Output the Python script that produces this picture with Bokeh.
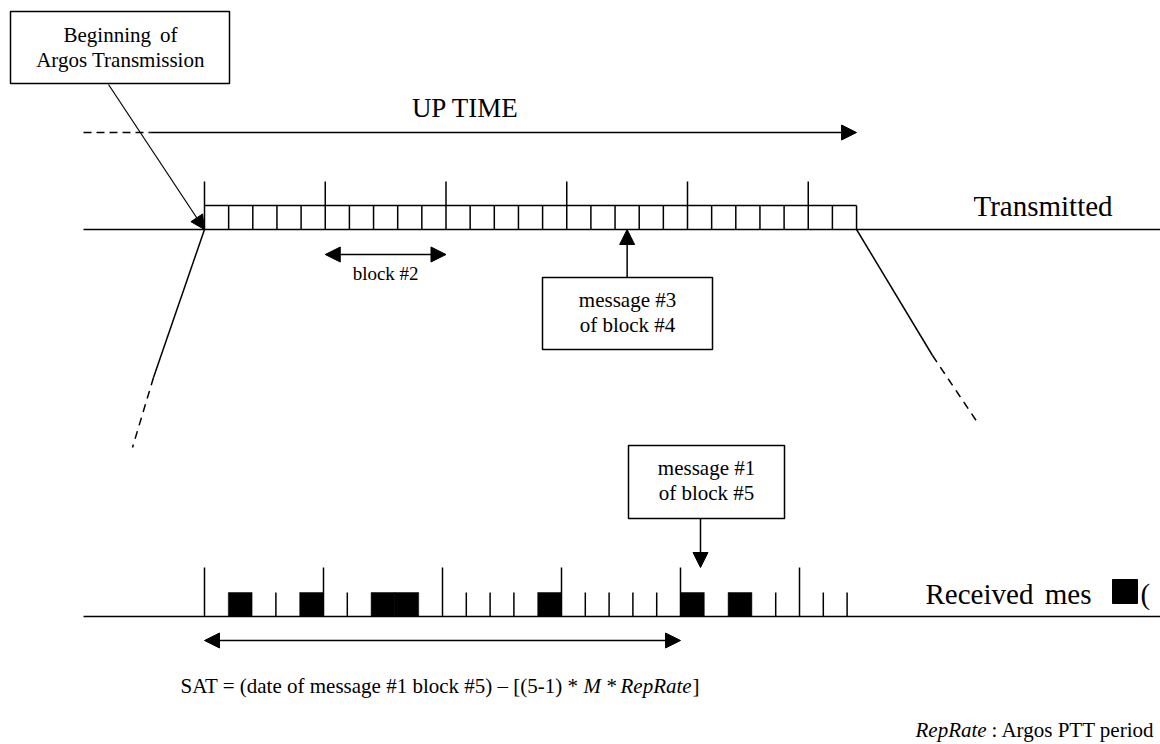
from bokeh.plotting import figure
from bokeh.models import Range1d, Arrow, NormalHead
from bokeh.core.properties import value
from bokeh.embed import file_html
from bokeh.resources import INLINE

# ---------------- data ----------------
n_messages = 27                 # messages transmitted during UP TIME
messages_per_block = 5          # M
block_starts = [0, 5, 10, 15, 20, 25]          # message index where each block starts
received_messages = [1, 4, 7, 8, 14, 20, 22]   # message indices received by the satellite
tx_highlight = (4, 3)           # (block, message) pointed at in the transmitted row
rx_highlight = (5, 1)           # (block, message) pointed at in the received row
box_begin = ["Beginning", "of", "Argos Transmission"]
box_tx = ["message #3", "of block #4"]
box_rx = ["message #1", "of block #5"]

# ---------------- layout (page pixels) ----------------
W, H = 1160, 744
FONT = value("Liberation Serif")
TX_X0, TX_CELL, TX_BASE, TX_TOP, TX_TICK = 204, 24.15, 229, 205, 181
RX_X0, RX_CELL, RX_BASE, RX_TOP, RX_TICK = 204, 23.8, 616, 592, 567
LEFT, RIGHT = 83, 1160
LW = 1.5
BASE_FIX = 0.38   # renderer places alphabetic baseline lower by this fraction of the font size


def tx(k):
    return TX_X0 + k * TX_CELL


def rx(k):
    return RX_X0 + k * RX_CELL


p = figure(width=W, height=H, x_range=Range1d(0, W), y_range=Range1d(H, 0),
           output_backend="svg", toolbar_location=None, min_border=0,
           x_axis_location=None, y_axis_location=None)
p.grid.visible = False
p.outline_line_color = None
p.background_fill_color = "white"
p.border_fill_color = "white"


def seg(x0, y0, x1, y1, lw=LW, dash="solid"):
    p.segment(x0=[x0], y0=[y0], x1=[x1], y1=[y1], line_color="black", line_width=lw, line_dash=dash)


def arrow(x0, y0, x1, y1, both=False, lw=LW, size=15):
    head = lambda: NormalHead(size=size, fill_color="black", line_color="black", line_width=1)
    p.add_layout(Arrow(end=head(), start=head() if both else None,
                       x_start=x0, y_start=y0, x_end=x1, y_end=y1,
                       line_color="black", line_width=lw))


def txt(x, y, s, size=21, align="left", style="normal"):
    p.text(x=[x], y=[y - BASE_FIX * size], text=[s], text_font=FONT, text_font_size=f"{size}px",
           text_align=align, text_baseline="alphabetic", text_color="black", text_font_style=style)


# ---------------- transmitted row ----------------
seg(LEFT, TX_BASE, RIGHT, TX_BASE)
seg(tx(0), TX_TOP, tx(n_messages), TX_TOP)
ks = list(range(n_messages + 1))
p.segment(x0=[tx(k) for k in ks], y0=[TX_TOP] * len(ks), x1=[tx(k) for k in ks], y1=[TX_BASE] * len(ks),
          line_color="black", line_width=LW)
p.segment(x0=[tx(k) for k in block_starts], y0=[TX_TICK] * len(block_starts),
          x1=[tx(k) for k in block_starts], y1=[TX_TOP] * len(block_starts),
          line_color="black", line_width=LW)
txt(973, 217, "Transmitted", size=29)

# UP TIME
seg(LEFT, 132, 150, 132, dash="8 5")
arrow(150, 132, tx(n_messages), 132)
txt(465, 118, "UP TIME", size=27, align="center")

# block #2
arrow(tx(block_starts[1]), 254, tx(block_starts[2]), 254, both=True)
txt((tx(block_starts[1]) + tx(block_starts[2])) / 2, 280, "block #2", size=19, align="center")

# message #3 of block #4
ti = (tx_highlight[0] - 1) * messages_per_block + (tx_highlight[1] - 1)
ax = tx(ti + 0.5)
p.quad(left=[542], right=[712], top=[277], bottom=[349], fill_color="white", line_color="black", line_width=LW)
arrow(ax, 277, ax, TX_BASE)
txt(627, 307, box_tx[0], align="center")
txt(627, 332, box_tx[1], align="center")

# beginning box
p.quad(left=[10], right=[229], top=[11], bottom=[83], fill_color="white", line_color="black", line_width=LW)
txt(63, 42, box_begin[0])
txt(177, 42, box_begin[1], align="right")
txt(120, 67, box_begin[2], align="center")
arrow(108, 84, tx(0), TX_BASE, lw=1.2, size=14)

# diagonal (projection) lines
seg(tx(0), TX_BASE, 153, 377)
seg(153, 377, 132, 447, dash="8 6")
seg(tx(n_messages), TX_BASE, 932, 355)
seg(932, 355, 977, 422, dash="8 6")

# ---------------- received row ----------------
seg(LEFT, RX_BASE, RIGHT, RX_BASE)
p.quad(left=[rx(k) for k in received_messages], right=[rx(k + 1) for k in received_messages],
       top=[RX_TOP] * len(received_messages), bottom=[RX_BASE] * len(received_messages),
       fill_color="black", line_color="black", line_width=0.5)
p.segment(x0=[rx(k) for k in block_starts], y0=[RX_TICK] * len(block_starts),
          x1=[rx(k) for k in block_starts], y1=[RX_BASE] * len(block_starts),
          line_color="black", line_width=LW)
edges = set()
for k in received_messages:
    edges.update([k, k + 1])
short = [k for k in ks if k not in block_starts and k not in edges]
p.segment(x0=[rx(k) for k in short], y0=[RX_TOP] * len(short), x1=[rx(k) for k in short],
          y1=[RX_BASE] * len(short), line_color="black", line_width=LW)

txt(925, 605, "Received", size=29)
txt(1091, 605, "mes", size=29, align="right")
p.quad(left=[1112], right=[1137], top=[579], bottom=[603], fill_color="black", line_color="black")
txt(1140, 605, "(", size=29)

# message #1 of block #5
ri = (rx_highlight[0] - 1) * messages_per_block + (rx_highlight[1] - 1)
p.quad(left=[628], right=[784], top=[445], bottom=[518], fill_color="white", line_color="black", line_width=LW)
txt(706, 475, box_rx[0], align="center")
txt(706, 500, box_rx[1], align="center")
arrow(700, 518, 700, RX_TICK)

# SAT arrow and formula
arrow(rx(0), 640, rx(ri), 640, both=True)
txt(180, 693, "SAT = (date of message #1 block #5) \u2013 [(5-1) *")
txt(583, 693, "M", style="italic")
txt(606, 693, "*")
txt(620, 693, "RepRate", style="italic")
txt(692, 693, "]")

# footnote
txt(915, 737, "RepRate", style="italic")
txt(991, 737, ": Argos PTT period")

open("out.html", "w").write(file_html(p, INLINE))
